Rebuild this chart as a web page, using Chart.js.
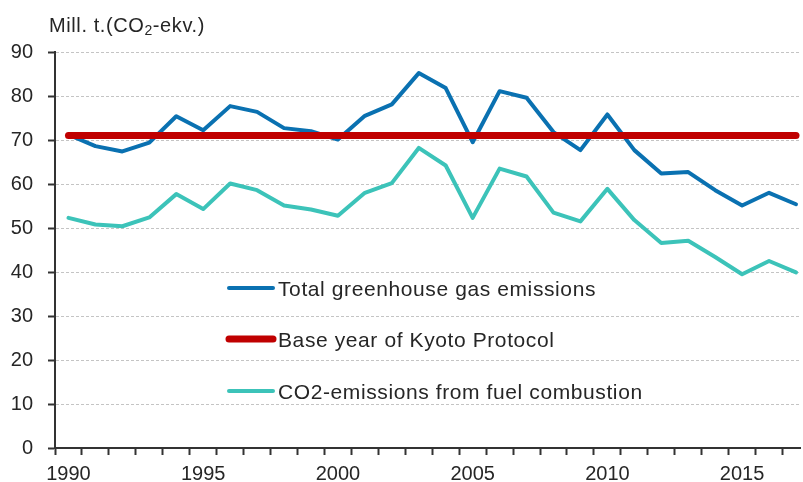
<!DOCTYPE html>
<html>
<head>
<meta charset="utf-8">
<script src="https://cdn.jsdelivr.net/npm/chart.js@4.4.0/dist/chart.umd.min.js"></script>
<style>
  html, body { margin: 0; padding: 0; background: #fff; overflow: hidden; }
  #wrap { position: relative; width: 803px; height: 482px; }
</style>
</head>
<body>
<div id="wrap"><canvas id="myChart"></canvas></div>
<script>
// Years on the x axis
const years = [1990, 1991, 1992, 1993, 1994, 1995, 1996, 1997, 1998, 1999,
               2000, 2001, 2002, 2003, 2004, 2005, 2006, 2007, 2008, 2009,
               2010, 2011, 2012, 2013, 2014, 2015, 2016, 2017];

// Mill. t CO2-eq.
const totalEmissions = [71.2, 68.6, 67.4, 69.4, 75.4, 72.2, 77.7, 76.4, 72.7, 72.0,
                        70.1, 75.5, 78.1, 85.2, 81.8, 69.5, 81.1, 79.6, 71.8, 67.7,
                        75.8, 67.7, 62.4, 62.7, 58.6, 55.1, 58.0, 55.4];
const kyotoBase = [71.0, 71.0, 71.0, 71.0, 71.0, 71.0, 71.0, 71.0, 71.0, 71.0,
                   71.0, 71.0, 71.0, 71.0, 71.0, 71.0, 71.0, 71.0, 71.0, 71.0,
                   71.0, 71.0, 71.0, 71.0, 71.0, 71.0, 71.0, 71.0];
const fuelCombustion = [52.3, 50.8, 50.4, 52.4, 57.7, 54.3, 60.1, 58.6, 55.1, 54.2,
                        52.8, 58.0, 60.2, 68.2, 64.2, 52.3, 63.5, 61.7, 53.5, 51.5,
                        58.9, 51.8, 46.6, 47.1, 43.4, 39.5, 42.5, 39.9];

// Tick labels
const yTicks = [0, 10, 20, 30, 40, 50, 60, 70, 80, 90];
const xLabelYears = [1990, 1995, 2000, 2005, 2010, 2015];

const FONT = '"Liberation Sans", Arial, sans-serif';
const TEXT = '#262626';
const AXIS = '#333333';

function toPoints(values) {
    return years.map((yr, i) => ({ x: yr, y: values[i] }));
}

// Unit label at top left and the legend inside the plot
const titleAndLegend = {
    id: 'titleAndLegend',
    afterDraw(chart) {
        const ctx = chart.ctx;
        ctx.save();
        ctx.fillStyle = TEXT;
        ctx.letterSpacing = '0.6px';
        ctx.textBaseline = 'alphabetic';

        // "Mill. t.(CO2-ekv.)" with subscript 2
        let x = 49;
        ctx.font = '20px ' + FONT;
        ctx.fillText('Mill. t.(CO', x, 31.5);
        x += ctx.measureText('Mill. t.(CO').width;
        ctx.font = '14px ' + FONT;
        ctx.fillText('2', x, 35);
        x += ctx.measureText('2').width;
        ctx.font = '20px ' + FONT;
        ctx.fillText('-ekv.)', x, 31.5);

        // legend rows
        const rows = [288, 339, 391];
        ctx.font = '21px ' + FONT;
        chart.data.datasets.forEach((ds, i) => {
            const y = rows[i];
            ctx.beginPath();
            ctx.lineCap = 'round';
            ctx.lineWidth = ds.borderWidth;
            ctx.strokeStyle = ds.borderColor;
            ctx.moveTo(229, y);
            ctx.lineTo(273, y);
            ctx.stroke();
            ctx.fillText(ds.label, 278, y + 7.5);
        });
        ctx.restore();
    }
};

const ctx = document.getElementById('myChart').getContext('2d');
new Chart(ctx, {
    type: 'line',
    data: {
        datasets: [
            {
                label: 'Total greenhouse gas emissions',
                data: toPoints(totalEmissions),
                borderColor: '#0a71b1',
                borderWidth: 4,
                order: 1
            },
            {
                label: 'Base year of Kyoto Protocol',
                data: toPoints(kyotoBase),
                borderColor: '#c00000',
                borderWidth: 7,
                order: 0
            },
            {
                label: 'CO2-emissions from fuel combustion',
                data: toPoints(fuelCombustion),
                borderColor: '#3cc3b9',
                borderWidth: 4,
                order: 2
            }
        ]
    },
    options: {
        responsive: true,
        maintainAspectRatio: false,
        animation: false,
        layout: { padding: { top: 52, left: 0, right: 0, bottom: 0 } },
        elements: {
            point: { radius: 0, hoverRadius: 0 },
            line: { tension: 0, borderJoinStyle: 'round', borderCapStyle: 'round', fill: false }
        },
        plugins: {
            legend: { display: false },
            title: { display: false },
            tooltip: { enabled: false }
        },
        scales: {
            x: {
                type: 'linear',
                min: 1989.5,
                max: 2017.15,
                afterBuildTicks: (scale) => {
                    // tick marks between the years, labels on the years
                    scale.ticks = years.flatMap(yr => [{ value: yr - 0.5 }, { value: yr }]);
                },
                afterFit: (scale) => { scale.height = 34; },
                grid: {
                    drawOnChartArea: false,
                    drawTicks: true,
                    tickLength: 7,
                    tickWidth: 2,
                    tickColor: (c) => (c.tick && Number.isInteger(c.tick.value)) ? 'rgba(0,0,0,0)' : AXIS
                },
                border: { display: true, color: AXIS, width: 2 },
                ticks: {
                    autoSkip: false,
                    maxRotation: 0,
                    padding: 7,
                    color: TEXT,
                    font: { size: 20, family: FONT },
                    callback: (v) => xLabelYears.includes(v) ? String(v) : ''
                }
            },
            y: {
                min: 0,
                max: 90,
                afterBuildTicks: (scale) => { scale.ticks = yTicks.map(v => ({ value: v })); },
                afterFit: (scale) => { scale.width = 55; },
                grid: {
                    color: (c) => (c.tick && c.tick.value === 0) ? 'rgba(0,0,0,0)' : '#c4c4c4',
                    lineWidth: 1,
                    tickLength: 7,
                    tickWidth: 2,
                    tickColor: AXIS
                },
                border: { display: true, color: AXIS, width: 2, dash: [3, 2] },
                ticks: {
                    padding: 15,
                    color: TEXT,
                    font: { size: 20, family: FONT }
                }
            }
        }
    },
    plugins: [titleAndLegend]
});
</script>
</body>
</html>
